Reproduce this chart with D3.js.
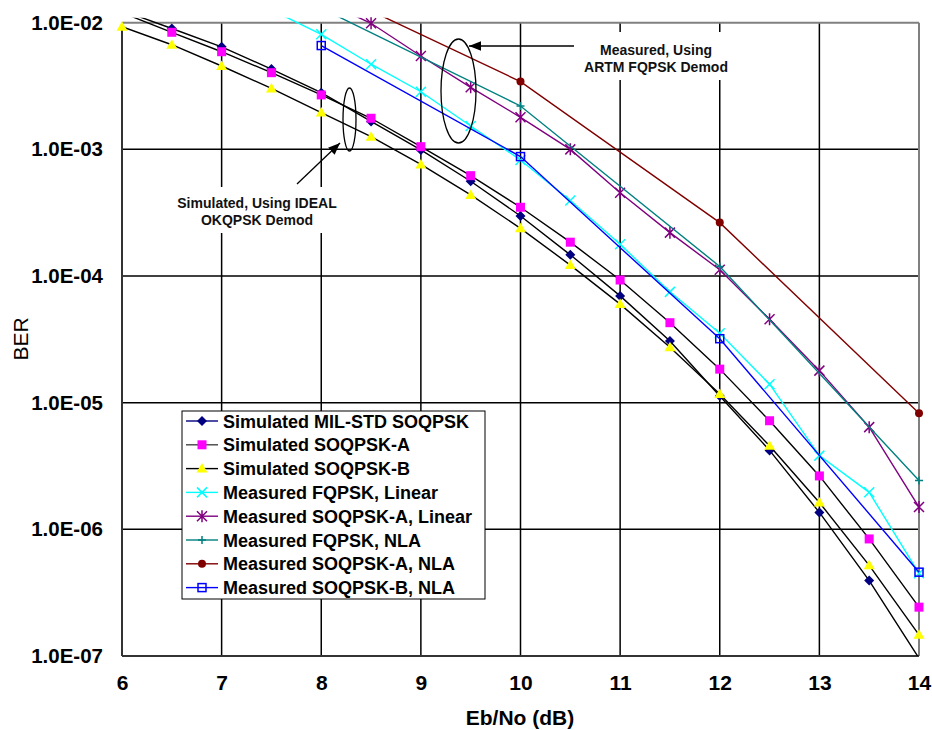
<!DOCTYPE html>
<html>
<head>
<meta charset="utf-8">
<script src="https://cdnjs.cloudflare.com/ajax/libs/d3/7.8.5/d3.min.js"></script>
<style>
  body { margin: 0; background: #fff; }
  svg { display: block; font-family: Arial, "Liberation Sans", sans-serif; }
</style>
</head>
<body>
<svg width="932" height="730"></svg>
<script>
// x values (Eb/No, dB)
var ebnoSim = [6, 6.5, 7, 7.5, 8, 8.5, 9, 9.5, 10, 10.5, 11, 11.5, 12, 12.5, 13, 13.5, 14];
var ebnoFqLin = [7.5, 8, 8.5, 9, 9.5, 10, 10.5, 11, 11.5, 12, 12.5, 13, 13.5, 14];
var ebnoSoqALin = [8, 8.5, 9, 9.5, 10, 10.5, 11, 11.5, 12, 12.5, 13, 13.5, 14];
var ebnoNla = [8, 10, 12, 14];

// BER values
var simMilStd = [1.25e-2, 9.0e-3, 6.45e-3, 4.3e-3, 2.8e-3, 1.66e-3, 9.9e-4, 5.6e-4, 2.98e-4, 1.47e-4, 6.97e-5, 3.07e-5, 1.13e-5, 4.2e-6, 1.36e-6, 3.94e-7, 9.6e-8];
var simSoqA = [1.2e-2, 8.4e-3, 5.9e-3, 4.03e-3, 2.69e-3, 1.76e-3, 1.05e-3, 6.2e-4, 3.49e-4, 1.85e-4, 9.3e-5, 4.28e-5, 1.84e-5, 7.2e-6, 2.64e-6, 8.4e-7, 2.43e-7];
var simSoqB = [9.3e-3, 6.7e-3, 4.55e-3, 3.03e-3, 1.95e-3, 1.26e-3, 7.6e-4, 4.37e-4, 2.38e-4, 1.22e-4, 6.0e-5, 2.74e-5, 1.17e-5, 4.57e-6, 1.63e-6, 5.2e-7, 1.47e-7];
var measFqLin = [1.26e-2, 8.1e-3, 4.7e-3, 2.85e-3, 1.53e-3, 8.24e-4, 3.94e-4, 1.78e-4, 7.5e-5, 3.53e-5, 1.4e-5, 3.82e-6, 1.96e-6, 4.5e-7];
var measSoqALin = [1.5e-2, 9.9e-3, 5.46e-3, 3.09e-3, 1.79e-3, 1.0e-3, 4.55e-4, 2.2e-4, 1.12e-4, 4.56e-5, 1.79e-5, 6.41e-6, 1.5e-6];
var measFqNla = [1.3e-2, 2.2e-3, 1.19e-4, 2.43e-6];
var measSoqANla = [1.9e-2, 3.43e-3, 2.64e-4, 8.26e-6];
var measSoqBNla = [6.6e-3, 8.77e-4, 3.2e-5, 4.59e-7];

var xTicks = [6, 7, 8, 9, 10, 11, 12, 13, 14];
var yTicks = [1e-2, 1e-3, 1e-4, 1e-5, 1e-6, 1e-7];
var yTickLabels = ["1.0E-02", "1.0E-03", "1.0E-04", "1.0E-05", "1.0E-06", "1.0E-07"];

var series = [
  {name: "Simulated MIL-STD SOQPSK", xs: ebnoSim, ys: simMilStd, line: "#000", legendLine: "#000080", mark: "diamond", color: "#000080"},
  {name: "Simulated SOQPSK-A", xs: ebnoSim, ys: simSoqA, line: "#000", legendLine: "#444", mark: "square", color: "#ff00ff"},
  {name: "Simulated SOQPSK-B", xs: ebnoSim, ys: simSoqB, line: "#000", legendLine: "#000", mark: "triangle", color: "#ffff00"},
  {name: "Measured FQPSK, Linear", xs: ebnoFqLin, ys: measFqLin, line: "#00ffff", legendLine: "#00ffff", mark: "x", color: "#00ffff"},
  {name: "Measured SOQPSK-A, Linear", xs: ebnoSoqALin, ys: measSoqALin, line: "#800080", legendLine: "#800080", mark: "star", color: "#800080"},
  {name: "Measured FQPSK, NLA", xs: ebnoNla, ys: measFqNla, line: "#008080", legendLine: "#008080", mark: "plus", color: "#008080"},
  {name: "Measured SOQPSK-A, NLA", xs: ebnoNla, ys: measSoqANla, line: "#800000", legendLine: "#800000", mark: "circle", color: "#800000"},
  {name: "Measured SOQPSK-B, NLA", xs: ebnoNla, ys: measSoqBNla, line: "#0000ff", legendLine: "#0000ff", mark: "hollow", color: "#0000ff"}
];

var svg = d3.select("svg"),
    plotLeft = 122, plotRight = 919, plotTop = 22.7, plotBottom = 656;

var x = d3.scaleLinear().domain([6, 14]).range([plotLeft, plotRight]);
var y = d3.scaleLog().domain([1e-7, 1e-2]).range([plotBottom, plotTop]);

// marker shapes
function marker(sel, kind, color) {
  if (kind == "diamond") {
    sel.append("path").attr("d", "M0,-5L5,0L0,5L-5,0Z").attr("fill", color);
  } else if (kind == "square") {
    sel.append("rect").attr("x", -4.5).attr("y", -4.5).attr("width", 9).attr("height", 9).attr("fill", color);
  } else if (kind == "triangle") {
    sel.append("path").attr("d", "M0,-5.5L5.5,4L-5.5,4Z").attr("fill", color);
  } else if (kind == "x") {
    sel.append("path").attr("d", "M-5,-5L5,5M-5,5L5,-5").attr("stroke", color).attr("stroke-width", 1.5);
  } else if (kind == "star") {
    sel.append("path").attr("d", "M-5,-5L5,5M-5,5L5,-5M0,-6L0,6").attr("stroke", color).attr("stroke-width", 1.5);
  } else if (kind == "plus") {
    sel.append("path").attr("d", "M-4,0L4,0M0,-4L0,4").attr("stroke", color).attr("stroke-width", 1.5);
  } else if (kind == "circle") {
    sel.append("circle").attr("r", 4).attr("fill", color);
  } else if (kind == "hollow") {
    sel.append("rect").attr("x", -4).attr("y", -4).attr("width", 8).attr("height", 8)
      .attr("fill", "none").attr("stroke", color).attr("stroke-width", 1.5);
  }
}

var defs = svg.append("defs");
defs.append("clipPath").attr("id", "plotclip")
  .append("rect").attr("x", plotLeft).attr("y", plotTop - 5)
  .attr("width", plotRight - plotLeft + 1).attr("height", plotBottom - plotTop + 5);

defs.append("marker")
    .attr("id", "arrow").attr("viewBox", "0 0 10 10").attr("refX", 10).attr("refY", 5)
    .attr("markerWidth", 12).attr("markerHeight", 12).attr("markerUnits", "userSpaceOnUse")
    .attr("orient", "auto")
  .append("path").attr("d", "M0,1L10,5L0,9Z").attr("fill", "#000");

// grid
svg.append("g").selectAll("line").data(xTicks.slice(1, -1)).enter().append("line")
  .attr("x1", function(d) { return x(d); }).attr("x2", function(d) { return x(d); })
  .attr("y1", plotTop).attr("y2", plotBottom)
  .attr("stroke", "#000").attr("stroke-width", 1.5);
svg.append("g").selectAll("line").data(yTicks.slice(1, -1)).enter().append("line")
  .attr("x1", plotLeft).attr("x2", plotRight)
  .attr("y1", function(d) { return y(d); }).attr("y2", function(d) { return y(d); })
  .attr("stroke", "#000").attr("stroke-width", 1.5);

// frame
svg.append("line").attr("x1", plotLeft).attr("x2", plotRight).attr("y1", plotTop).attr("y2", plotTop).attr("stroke", "#808080").attr("stroke-width", 2);
svg.append("line").attr("x1", plotRight).attr("x2", plotRight).attr("y1", plotTop).attr("y2", plotBottom).attr("stroke", "#808080").attr("stroke-width", 2);
svg.append("line").attr("x1", plotLeft).attr("x2", plotLeft).attr("y1", plotTop).attr("y2", plotBottom).attr("stroke", "#333").attr("stroke-width", 2);
svg.append("line").attr("x1", plotLeft).attr("x2", plotRight).attr("y1", plotBottom).attr("y2", plotBottom).attr("stroke", "#333").attr("stroke-width", 2);

// axes labels
var yAxis = d3.axisLeft(y).tickValues(yTicks)
  .tickFormat(function(d, i) { return yTickLabels[i]; }).tickSize(0).tickPadding(19);
svg.append("g").attr("transform", "translate(" + plotLeft + ",0)").call(yAxis)
  .call(function(g) { g.select(".domain").remove(); })
  .selectAll("text").attr("font-size", 20.5).attr("font-weight", "bold").attr("font-family", "Arial, 'Liberation Sans', sans-serif").attr("fill", "#000");

var xAxis = d3.axisBottom(x).tickValues(xTicks).tickFormat(d3.format("d")).tickSize(0).tickPadding(19);
svg.append("g").attr("transform", "translate(0," + plotBottom + ")").call(xAxis)
  .call(function(g) { g.select(".domain").remove(); })
  .selectAll("text").attr("font-size", 21).attr("font-weight", "bold").attr("font-family", "Arial, 'Liberation Sans', sans-serif").attr("fill", "#000");

svg.append("text").attr("x", 520).attr("y", 725).attr("text-anchor", "middle")
  .attr("font-size", 21).attr("font-weight", "bold").text("Eb/No (dB)");
svg.append("text").attr("transform", "translate(28,339) rotate(-90)").attr("text-anchor", "middle")
  .attr("font-size", 21).text("BER");

// series
var plot = svg.append("g");
series.forEach(function(s) {
  var pts = s.xs.map(function(v, i) { return [v, s.ys[i]]; });
  var line = d3.line().x(function(d) { return x(d[0]); }).y(function(d) { return y(d[1]); });
  plot.append("path").attr("d", line(pts)).attr("clip-path", "url(#plotclip)")
    .attr("fill", "none").attr("stroke", s.line).attr("stroke-width", 1.4);
  pts.filter(function(d) { return d[1] >= 1e-7 && d[1] <= 1.001e-2; }).forEach(function(d) {
    var g = plot.append("g").attr("transform", "translate(" + x(d[0]) + "," + y(d[1]) + ")");
    marker(g, s.mark, s.color);
  });
});

// annotations
function note(cx, cy, lines, box) {
  svg.append("rect").attr("x", box[0]).attr("y", box[1]).attr("width", box[2]).attr("height", box[3]).attr("fill", "#fff");
  lines.forEach(function(t, i) {
    svg.append("text").attr("x", cx).attr("y", cy + i * 17).attr("text-anchor", "middle")
      .attr("font-size", 14).attr("font-weight", "bold").attr("fill", "#111").text(t);
  });
}
note(257, 208, ["Simulated, Using IDEAL", "OKQPSK Demod"], [168, 187, 180, 46]);
note(656, 55, ["Measured, Using", "ARTM FQPSK Demod"], [578, 32, 155, 48]);

svg.append("ellipse").attr("cx", 349.5).attr("cy", 119.5).attr("rx", 6.5).attr("ry", 31.5)
  .attr("fill", "none").attr("stroke", "#000").attr("stroke-width", 1.3);
svg.append("ellipse").attr("cx", 458.5).attr("cy", 91).attr("rx", 17.5).attr("ry", 52)
  .attr("fill", "none").attr("stroke", "#000").attr("stroke-width", 1.3);
svg.append("line").attr("x1", 297).attr("y1", 184).attr("x2", 340).attr("y2", 143)
  .attr("stroke", "#000").attr("stroke-width", 1.3).attr("marker-end", "url(#arrow)");
svg.append("line").attr("x1", 574).attr("y1", 46).attr("x2", 469).attr("y2", 46)
  .attr("stroke", "#000").attr("stroke-width", 1.3).attr("marker-end", "url(#arrow)");

// legend
var legend = svg.append("g").attr("transform", "translate(182,411)");
legend.append("rect").attr("width", 303).attr("height", 188).attr("fill", "#fff").attr("stroke", "#000").attr("stroke-width", 1);
series.forEach(function(s, i) {
  var row = legend.append("g").attr("transform", "translate(0," + (10 + i * 23.8) + ")");
  row.append("line").attr("x1", 4).attr("x2", 36).attr("stroke", s.legendLine).attr("stroke-width", 1.4);
  marker(row.append("g").attr("transform", "translate(20,0)"), s.mark, s.color);
  row.append("text").attr("x", 41).attr("y", 6.5).attr("font-size", 18).attr("font-weight", "bold").text(s.name);
});
</script>
</body>
</html>
